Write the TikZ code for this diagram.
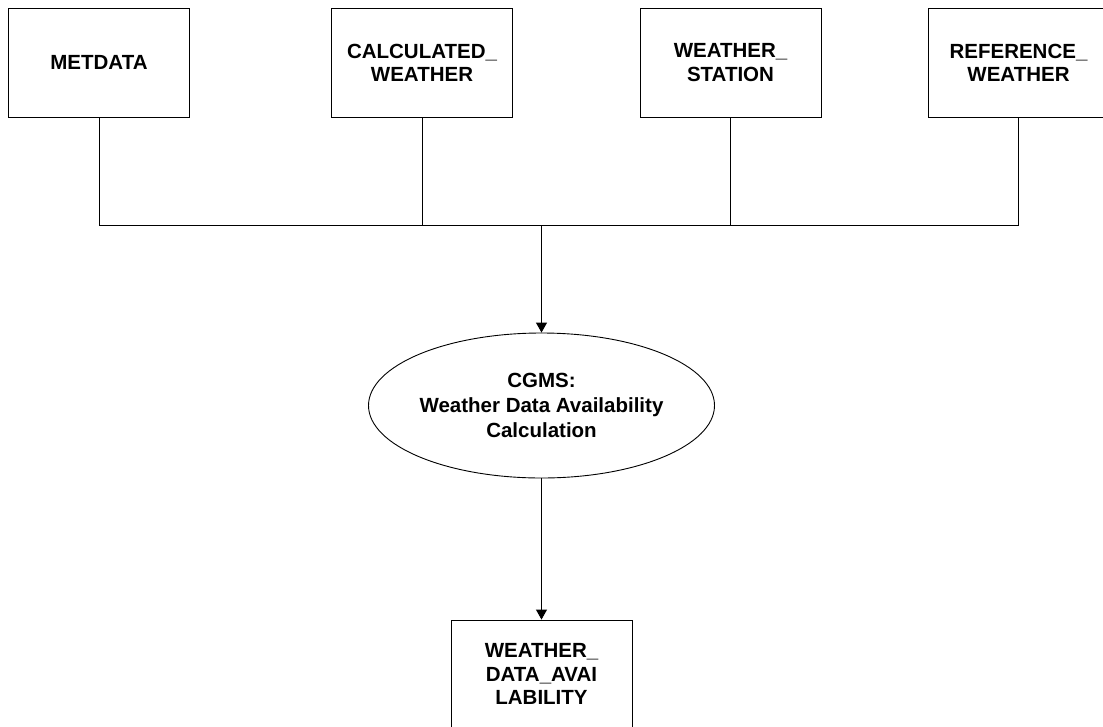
\documentclass[tikz,border=0pt]{standalone}
\usepackage{fontspec}
\setmainfont{Liberation Sans}
\usetikzlibrary{shapes.geometric,arrows.meta}
\tikzset{
  lbl/.style={font=\bfseries\fontsize{20.5}{23.3}\selectfont, align=center, inner sep=0pt},
  tablebox/.style={lbl, draw, line width=0.9pt, minimum width=181pt, minimum height=109pt},
  procell/.style={lbl, font=\bfseries\fontsize{20.5}{25}\selectfont, draw, ellipse, line width=0.9pt, minimum width=346pt, minimum height=145pt},
  conn/.style={line width=0.9pt},
  flow/.style={conn, -{Triangle[length=10pt,width=11pt]}}
}
\begin{document}
\begin{tikzpicture}[x=1pt,y=-1pt]
\useasboundingbox (0,0) rectangle (1103,726);
\fill[white] (0,0) rectangle (1103,726);
\node[tablebox] (metdata) at (99,62.5) {METDATA};
\node[tablebox] (calc) at (422,62.5) {CALCULATED\_\\WEATHER};
\node[tablebox] (station) at (730.5,62.5) {WEATHER\_\\STATION};
\node[tablebox] (ref) at (1018.5,62.5) {REFERENCE\_\\WEATHER};
\coordinate (jm) at (541.5,225);
\node[procell] (proc) at (541.5,405.5) {CGMS:\\Weather Data Availability\\Calculation};
\node[tablebox, minimum height=108pt] (out) at (541.5,674) {WEATHER\_\\DATA\_AVAI\\LABILITY};
\draw[conn] (metdata.south) -- (metdata.south |- jm) -- (ref.south |- jm) -- (ref.south);
\draw[conn] (calc.south) -- (calc.south |- jm);
\draw[conn] (station.south) -- (station.south |- jm);
\draw[flow, line width=1.2pt] (jm) -- (proc.north);
\draw[flow] (proc.south) -- (out.north);
\end{tikzpicture}
\end{document}
